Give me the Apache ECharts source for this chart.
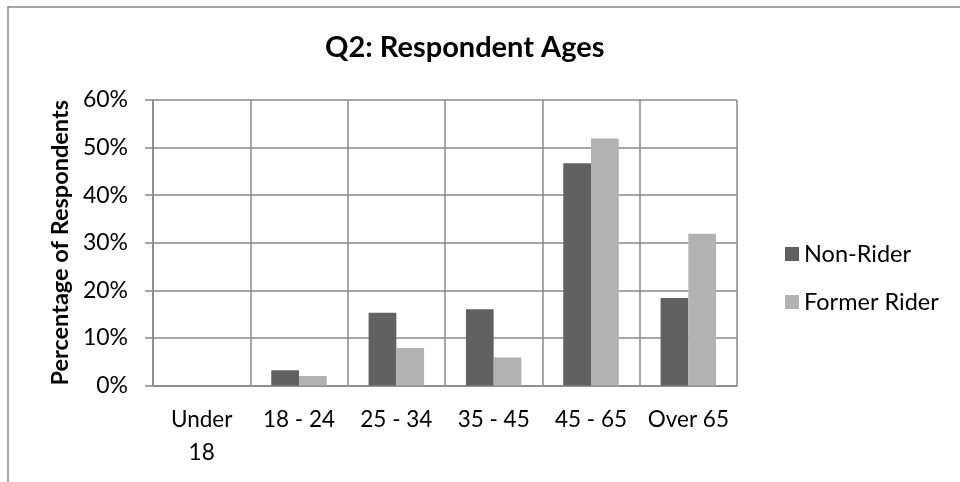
<!DOCTYPE html>
<html>
<head>
<meta charset="utf-8">
<script src="https://cdn.jsdelivr.net/npm/echarts@6/dist/echarts.min.js"></script>
<style>
  html, body { margin: 0; padding: 0; background: #fff; }
  #chart { width: 960px; height: 482px; }
</style>
</head>
<body>
<div id="chart"></div>
<script>
// Age groups of survey respondents
const categories = ['Under\n18', '18 - 24', '25 - 34', '35 - 45', '45 - 65', 'Over 65'];
// Share of respondents in each age group (%)
const nonRider = [0, 3.2, 15.3, 16.0, 46.7, 18.4];
const formerRider = [0, 2.0, 7.9, 5.9, 51.9, 31.9];
const seriesNames = ['Non-Rider', 'Former Rider'];
const yTicks = [0, 10, 20, 30, 40, 50, 60];

const FONT = 'Lato, "Open Sans", sans-serif';
const GRID = '#898989';

const chart = echarts.init(document.getElementById('chart'), null, { renderer: 'canvas' });

chart.setOption({
  animation: false,
  backgroundColor: '#ffffff',
  title: {
    text: 'Q2: Respondent Ages',
    left: 325,
    top: 33,
    padding: 0,
    textStyle: { fontFamily: FONT, fontSize: 29, fontWeight: 'bold', color: '#000' }
  },
  graphic: [{
    type: 'rect',
    shape: { x: 8, y: 7, width: 1000, height: 520 },
    style: { fill: 'none', stroke: GRID, lineWidth: 1.5 },
    silent: true
  }],
  legend: {
    orient: 'vertical',
    left: 780,
    top: 237,
    itemWidth: 14,
    itemHeight: 14,
    itemGap: 24,
    icon: 'rect',
    data: seriesNames,
    textStyle: { fontFamily: FONT, fontSize: 23.5, lineHeight: 22, color: '#000', padding: [0, 0, 0, 0] }
  },
  grid: { left: 153, right: 223, top: 100, bottom: 96.5, containLabel: false },
  xAxis: {
    type: 'category',
    data: categories,
    axisLine: { show: true, lineStyle: { color: GRID, width: 1.5 } },
    axisTick: { show: false },
    splitLine: { show: true, lineStyle: { color: GRID, width: 1.5 } },
    axisLabel: {
      fontFamily: FONT, fontSize: 22.5, lineHeight: 33, color: '#000',
      margin: 18, interval: 0
    }
  },
  yAxis: {
    type: 'value',
    min: yTicks[0],
    max: yTicks[yTicks.length - 1],
    interval: yTicks[1] - yTicks[0],
    name: 'Percentage of Respondents',
    nameLocation: 'middle',
    nameGap: 80,
    nameTextStyle: { fontFamily: FONT, fontSize: 23.5, fontWeight: 'bold', color: '#000' },
    axisLine: { show: true, lineStyle: { color: GRID, width: 1.5 } },
    axisTick: { show: true, length: 8, lineStyle: { color: GRID, width: 1.5 } },
    splitLine: { show: true, lineStyle: { color: GRID, width: 1.5 } },
    axisLabel: {
      fontFamily: FONT, fontSize: 23, color: '#000', margin: 25,
      formatter: v => v + '%'
    }
  },
  series: [
    {
      name: seriesNames[0],
      type: 'bar',
      data: nonRider,
      barGap: '0%',
      barCategoryGap: '43%',
      itemStyle: { color: '#616161' }
    },
    {
      name: seriesNames[1],
      type: 'bar',
      data: formerRider,
      barGap: '0%',
      barCategoryGap: '43%',
      itemStyle: { color: '#b2b2b2' }
    }
  ]
});
</script>
</body>
</html>
